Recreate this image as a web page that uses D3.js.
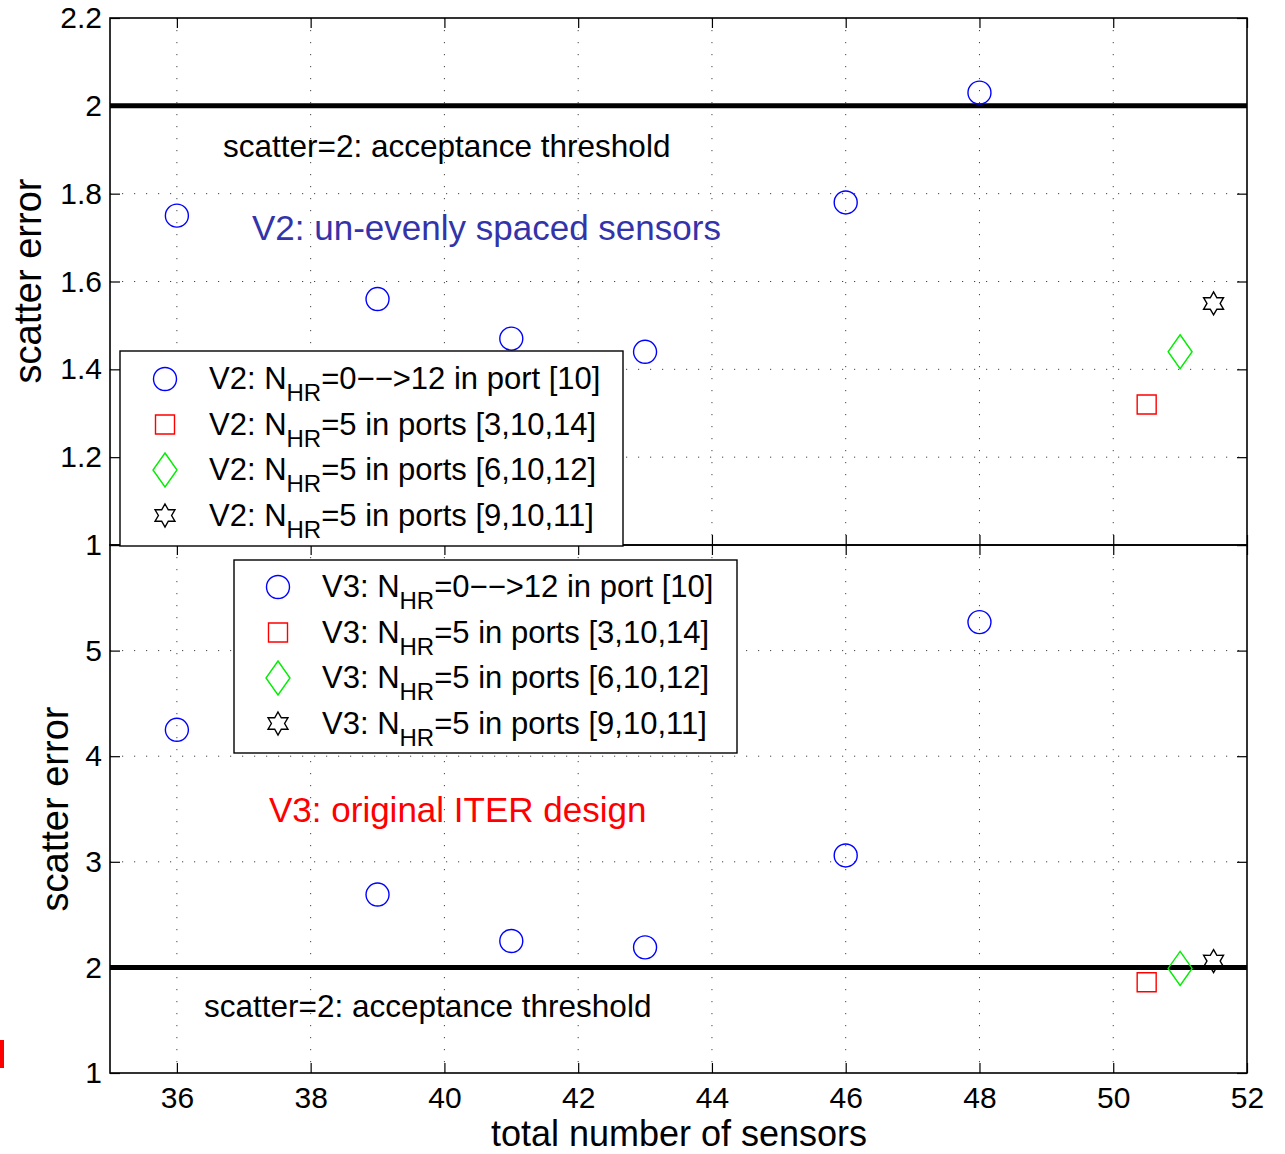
<!DOCTYPE html>
<html><head><meta charset="utf-8">
<script src="https://cdn.jsdelivr.net/npm/d3@7"></script>
<style>body{margin:0;background:#fff}svg{display:block}text{font-family:"Liberation Sans",Arial,sans-serif}</style>
</head><body>
<script>
const xTicks = [36,38,40,42,44,46,48,50,52];
const topYTicks = [1,1.2,1.4,1.6,1.8,2,2.2];
const botYTicks = [1,2,3,4,5,6];
const circleX = [36,39,41,43,46,48];
const v2Circle = [1.75,1.56,1.47,1.44,1.78,2.03];
const v3Circle = [4.25,2.69,2.25,2.19,3.06,5.27];
const extraX = [50.5,51,51.5];
const extraShapes = ["square","diamond","star"];
const v2Extra = [1.32,1.44,1.55];
const v3Extra = [1.86,1.99,2.06];
const threshold = 2;
const v2Legend = [["V2: N","=0−−>12 in port [10]"],["V2: N","=5 in ports [3,10,14]"],["V2: N","=5 in ports [6,10,12]"],["V2: N","=5 in ports [9,10,11]"]];
const v3Legend = [["V3: N","=0−−>12 in port [10]"],["V3: N","=5 in ports [3,10,14]"],["V3: N","=5 in ports [6,10,12]"],["V3: N","=5 in ports [9,10,11]"]];
const legendShapes = ["circle","square","diamond","star"];
const colors = {circle:"#0000ff",square:"#ff0000",diamond:"#00ee00",star:"#000000"};

const W=1285,H=1154;
const svg=d3.select("body").append("svg").attr("width",W).attr("height",H);
const L=110,R=1247;
const x=d3.scaleLinear().domain([35,52]).range([L,R]);
const yTop=d3.scaleLinear().domain([1,2.2]).range([545,18]);
const yBot=d3.scaleLinear().domain([1,6]).range([1073,545]);

function shapePath(type){
  if(type==="square") return "M-9.5,-9.5H9.5V9.5H-9.5Z";
  if(type==="diamond") return "M0,-17L12,0L0,17L-12,0Z";
  if(type==="star"){
    let p=[];
    for(let i=0;i<12;i++){
      const r=(i%2===0)?11.5:6.6;
      const a=-Math.PI/2+i*Math.PI/6;
      p.push([r*Math.cos(a),r*Math.sin(a)]);
    }
    return "M"+p.map(d=>d[0].toFixed(2)+","+d[1].toFixed(2)).join("L")+"Z";
  }
  return null;
}
function drawMarker(g,type,cx,cy){
  if(type==="circle"){
    g.append("circle").attr("cx",cx).attr("cy",cy).attr("r",11.5).attr("fill","none").attr("stroke",colors.circle).attr("stroke-width",1.4);
  } else {
    g.append("path").attr("d",shapePath(type)).attr("transform",`translate(${cx},${cy})`).attr("fill","none").attr("stroke",colors[type]).attr("stroke-width",1.4);
  }
}

function panel(y,yTicks,labelFilter,showX){
  const g=svg.append("g");
  const [yb,yt]=y.range();
  g.selectAll(".gx").data(xTicks.filter(d=>d>35&&d<52)).enter().append("line")
    .attr("x1",d=>x(d)).attr("x2",d=>x(d)).attr("y1",yt).attr("y2",yb)
    .attr("stroke","#444").attr("stroke-width",1).attr("stroke-dasharray","1.2,10.8");
  g.selectAll(".gy").data(yTicks.filter(d=>y(d)>yt+1&&y(d)<yb-1)).enter().append("line")
    .attr("x1",L).attr("x2",R).attr("y1",d=>y(d)).attr("y2",d=>y(d))
    .attr("stroke","#444").attr("stroke-width",1).attr("stroke-dasharray","1.2,10.8");
  const ax=svg.append("g");
  const left=d3.axisLeft(y).tickValues(yTicks).tickSizeInner(-10).tickSizeOuter(0).tickPadding(8).tickFormat(d=>labelFilter(d)?d3.format("")(+d.toFixed(1)):"");
  ax.append("g").attr("transform",`translate(${L},0)`).call(left);
  const right=d3.axisRight(y).tickValues(yTicks).tickSizeInner(-10).tickSizeOuter(0).tickFormat("");
  ax.append("g").attr("transform",`translate(${R},0)`).call(right);
  const bottom=d3.axisBottom(x).tickValues(xTicks).tickSizeInner(-10).tickSizeOuter(0).tickPadding(14).tickFormat(showX?d3.format("d"):"");
  ax.append("g").attr("transform",`translate(0,${yb})`).call(bottom);
  const top=d3.axisTop(x).tickValues(xTicks).tickSizeInner(-10).tickSizeOuter(0).tickFormat("");
  ax.append("g").attr("transform",`translate(0,${yt})`).call(top);
  ax.selectAll("g").attr("font-size",30).attr("font-family","Liberation Sans, Arial, sans-serif");
  ax.selectAll("text").attr("fill","#000");
  ax.selectAll(".domain").attr("stroke","none");
  ax.selectAll(".tick line").attr("stroke","#000").attr("stroke-width",1.2);
  svg.append("rect").attr("x",L).attr("y",yt).attr("width",R-L).attr("height",yb-yt).attr("fill","none").attr("stroke","#000").attr("stroke-width",1.6);
  svg.append("line").attr("x1",L).attr("x2",R).attr("y1",y(threshold)).attr("y2",y(threshold)).attr("stroke","#000").attr("stroke-width",5);
  return g;
}

panel(yTop,topYTicks,d=>true,false);
panel(yBot,botYTicks,d=>d<6,true);

const mk=svg.append("g");
circleX.forEach((xv,i)=>drawMarker(mk,"circle",x(xv),yTop(v2Circle[i])));
circleX.forEach((xv,i)=>drawMarker(mk,"circle",x(xv),yBot(v3Circle[i])));
extraX.forEach((xv,i)=>drawMarker(mk,extraShapes[i],x(xv),yTop(v2Extra[i])));
extraX.forEach((xv,i)=>drawMarker(mk,extraShapes[i],x(xv),yBot(v3Extra[i])));

svg.append("text").attr("x",223).attr("y",157).attr("font-size",31.5).attr("fill","#000").text("scatter=2: acceptance threshold");
svg.append("text").attr("x",252).attr("y",240).attr("font-size",35).attr("fill","#3333aa").text("V2: un-evenly spaced sensors");
svg.append("text").attr("x",269).attr("y",822).attr("font-size",35).attr("fill","#ff0000").text("V3: original ITER design");
svg.append("text").attr("x",204).attr("y",1017).attr("font-size",31.5).attr("fill","#000").text("scatter=2: acceptance threshold");

svg.append("text").attr("transform","translate(41,281) rotate(-90)").attr("text-anchor","middle").attr("font-size",38).text("scatter error");
svg.append("text").attr("transform","translate(68,809) rotate(-90)").attr("text-anchor","middle").attr("font-size",38).text("scatter error");
svg.append("text").attr("x",679).attr("y",1146).attr("text-anchor","middle").attr("font-size",36).text("total number of sensors");

function legend(x0,y0,w,h,items,symX,textX,rowY){
  const g=svg.append("g");
  g.append("rect").attr("x",x0).attr("y",y0).attr("width",w).attr("height",h).attr("fill","#fff").attr("stroke","#000").attr("stroke-width",1.4);
  items.forEach((it,i)=>{
    const cy=rowY+i*45.5;
    drawMarker(g,legendShapes[i],symX,cy);
    const t=g.append("text").attr("x",textX).attr("y",cy+10).attr("font-size",31).attr("fill","#000");
    t.append("tspan").text(it[0]);
    t.append("tspan").attr("dy",12).attr("font-size",24).text("HR");
    t.append("tspan").attr("dy",-12).text(it[1]);
  });
}
legend(120,351,503,195,v2Legend,165,209,379);
legend(234,560,503,193,v3Legend,278,322,587);

svg.append("rect").attr("x",0).attr("y",1040).attr("width",4).attr("height",28).attr("fill","#ff0000");
</script>
</body></html>
